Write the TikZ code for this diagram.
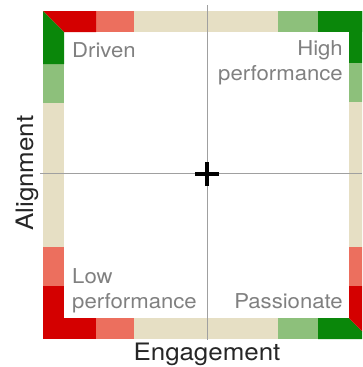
\documentclass[tikz,border=0pt]{standalone}
\usepackage{fontspec}
\setmainfont[FakeStretch=1.08]{TeX Gyre Heros}
\usetikzlibrary{positioning}
\definecolor{hotred}{HTML}{D40000}
\definecolor{softred}{HTML}{EC6F5E}
\definecolor{sand}{HTML}{E6DFC4}
\definecolor{softgreen}{HTML}{8DC07B}
\definecolor{deepgreen}{HTML}{0A870A}
\definecolor{axisgray}{HTML}{A0A0A0}
\definecolor{labelgray}{HTML}{808080}
\tikzset{
    %axes and labels
    axisline/.style={draw=axisgray, line width=1pt},
    quadlabel/.style={
      text=labelgray,
      inner sep=0pt,
      font=\fontsize{20.5}{24.5}\selectfont},
    axislabel/.style={
      text=black!85,
      inner sep=0pt,
      font=\fontsize{24}{28}\selectfont},
}
\begin{document}
\begin{tikzpicture}[x=1pt, y=-1pt]
    \useasboundingbox (0,0) rectangle (362,367);
    \clip (0,0) rectangle (362,367);
    % top and bottom bars
    \foreach \a/\b/\c in {96/134/softred, 134/278/sand, 278/318/softgreen, 318/370/deepgreen}
      \fill[\c] (\a,11) rectangle (\b,32);
    \foreach \a/\b/\c in {43/96/hotred, 96/134/softred, 134/278/sand, 278/318/softgreen}
      \fill[\c] (\a,318) rectangle (\b,339);
    % left and right bars
    \foreach \a/\b/\c in {64/103/softgreen, 103/247/sand, 247/286/softred, 286/318/hotred}
      \fill[\c] (43,\a) rectangle (64,\b);
    \foreach \a/\b/\c in {11/63/deepgreen, 63/102/softgreen, 102/247/sand, 247/286/softred}
      \fill[\c] (349,\a) rectangle (370,\b);
    % split corners
    \fill[hotred] (43,11) -- (96,11) -- (96,32) -- (64,32) -- cycle;
    \fill[deepgreen] (43,11) -- (64,32) -- (64,64) -- (43,64) -- cycle;
    \fill[deepgreen] (318,318) -- (349,318) -- (370,339) -- (318,339) -- cycle;
    \fill[hotred] (349,286) -- (370,286) -- (370,339) -- (349,318) -- cycle;

    \coordinate (c) at (207,174);
    \coordinate (vtop) at (207,5);
    \coordinate (vbot) at (207,340);
    \coordinate (hleft) at (40,173);
    \coordinate (hright) at (362,173);
    \draw[axisline] (vtop) -- (vbot);
    \draw[axisline] (hleft) -- (hright);
    \draw[line width=4pt] ([xshift=-12pt]c) -- ([xshift=12pt]c);
    \draw[line width=4pt] ([yshift=-12pt]c) -- ([yshift=12pt]c);

    \node (driven) [quadlabel, anchor=base west] at (72,57) {Driven};
    \node (high) [quadlabel, align=right, anchor=base east] at (343,80) {High\\performance};
    \node (low) [quadlabel, align=left, anchor=base west] at (72,308) {Low\\performance};
    \node (passion) [quadlabel, anchor=base east] at (343,308) {Passionate};
    \node (engage) [axislabel, anchor=base] at (207,360) {Engagement};
    \node (align) [axislabel, rotate=90, anchor=base] at (33,173) {Alignment};
\end{tikzpicture}
\end{document}
